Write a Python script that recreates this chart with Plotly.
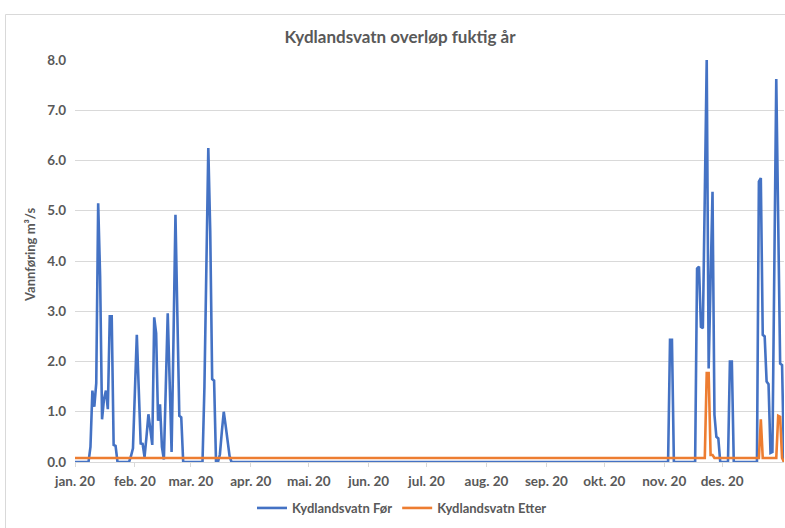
import pandas as pd
import plotly.graph_objects as go

# ---- data -------------------------------------------------------------
START_DATE = "2020-01-01"
N_DAYS = 368

series_names = ["Kydlandsvatn Før", "Kydlandsvatn Etter"]
series_colors = ["#4472C4", "#ED7D31"]

# Kydlandsvatn Før: overflow is zero except during these flow episodes
for_base = 0.0
for_episode_start = ["2020-01-09", "2020-01-30", "2020-03-08", "2020-03-16",
                     "2020-11-04", "2020-11-18", "2020-12-05", "2020-12-20"]
for_jan = [0.3, 1.42, 1.1, 1.57, 5.15, 3.7, 0.85, 1.25, 1.42, 1.05, 2.9, 2.9, 0.34, 0.32]
for_feb = [0.12, 0.27, 1.4, 2.53, 1.45, 0.37, 0.36, 0.1, 0.5, 0.95, 0.65, 0.34, 2.88, 2.56,
           0.82, 1.15, 0.3, 0.05, 1.5, 2.96, 1.6, 0.2, 2.5, 4.92, 2.9, 0.92, 0.89]
for_mar = [1.5, 4.1, 6.25, 4.6, 1.65, 1.62]
for_mar_late = [0.15, 0.6, 1.0, 0.72, 0.42, 0.12]
for_nov_early = [2.43, 2.43]
for_nov_late = [3.85, 3.89, 2.69, 2.66, 5.3, 8.0, 1.86, 3.6, 5.38, 0.94, 0.5, 0.47]
for_dec_early = [2.0, 2.0]
for_dec_late = [5.58, 5.65, 2.53, 2.5, 1.6, 1.55, 0.18, 0.2, 3.9, 7.62, 4.8, 1.96, 1.93]
for_episodes = [for_jan, for_feb, for_mar, for_mar_late,
                for_nov_early, for_nov_late, for_dec_early, for_dec_late]

# Kydlandsvatn Etter: small constant release with a few overflow peaks
etter_base = 0.08
etter_episode_start = ["2020-11-23", "2020-12-21", "2020-12-30", "2021-01-02"]
etter_nov = [1.77, 1.77, 0.14, 0.14]
etter_dec_a = [0.85]
etter_dec_b = [0.92, 0.9]
etter_end = [0.0]
etter_episodes = [etter_nov, etter_dec_a, etter_dec_b, etter_end]

# axis labels
month_starts = ["2020-01-01", "2020-02-01", "2020-03-01", "2020-04-01", "2020-05-01",
                "2020-06-01", "2020-07-01", "2020-08-01", "2020-09-01", "2020-10-01",
                "2020-11-01", "2020-12-01"]
month_labels = ["jan. 20", "feb. 20", "mar. 20", "apr. 20", "mai. 20", "jun. 20",
                "jul. 20", "aug. 20", "sep. 20", "okt. 20", "nov. 20", "des. 20"]
y_ticks = [0, 1, 2, 3, 4, 5, 6, 7, 8]

title_text = "Kydlandsvatn overløp fuktig år"
y_title_text = "Vannføring m³/s"


def daily_series(base, starts, episodes):
    idx = pd.date_range(START_DATE, periods=N_DAYS, freq="D")
    s = pd.Series(base, index=idx, dtype=float)
    for start, vals in zip(starts, episodes):
        rng = pd.date_range(start, periods=len(vals), freq="D")
        s.loc[rng] = vals
    return s


for_series = daily_series(for_base, for_episode_start, for_episodes)
etter_series = daily_series(etter_base, etter_episode_start, etter_episodes)

# ---- figure -----------------------------------------------------------
W, H = 785, 528
L, R, T, B = 75, 1, 60, 66
pw, ph = W - L - R, H - T - B

FONT = "Lato"
GREY = "#595959"


def px_x(px):
    return (px - L) / pw


def px_y(py):
    return (H - B - py) / ph


fig = go.Figure()
for s, name, color in zip([for_series, etter_series], series_names, series_colors):
    fig.add_trace(go.Scatter(
        x=s.index, y=s.values, name=f"<b>{name}</b>", mode="lines",
        line=dict(color=color, width=2.6),
        hoverinfo="x+y",
    ))

fig.update_layout(
    width=W, height=H,
    margin=dict(l=L, r=R, t=T, b=B, pad=0),
    paper_bgcolor="white", plot_bgcolor="white",
    font=dict(family=FONT, color=GREY, size=12),
    title=dict(text=f"<b>{title_text}</b>", x=400 / W, xanchor="center",
               y=1 - 37 / H, yanchor="middle", xref="container", yref="container",
               font=dict(size=17, color=GREY, family=FONT)),
    showlegend=True,
    legend=dict(orientation="h", x=px_x(402), xanchor="center",
                y=px_y(508), yanchor="middle",
                font=dict(size=13, color=GREY, family=FONT),
                itemwidth=30, tracegroupgap=0, bgcolor="rgba(0,0,0,0)"),
    xaxis=dict(
        type="date", range=[START_DATE, for_series.index[-1]],
        tickmode="array", tickvals=month_starts, ticktext=[f"<b>{t}</b>" for t in month_labels],
        showgrid=False, zeroline=False,
        showline=True, linecolor="#d9d9d9", linewidth=1,
        ticks="outside", ticklen=4, tickcolor="#d9d9d9",
        tickfont=dict(size=13.5, color=GREY, family=FONT),
        ticklabelstandoff=3,
    ),
    yaxis=dict(
        range=[0, 8], tickmode="array", tickvals=y_ticks,
        ticktext=[f"<b>{v:.1f}</b>" for v in y_ticks],
        showgrid=True, gridcolor="#d9d9d9", gridwidth=1,
        zeroline=False, showline=False, ticks="",
        tickfont=dict(size=13.5, color=GREY, family=FONT),
        ticklabelstandoff=8,
    ),
    annotations=[dict(
        text=f"<b>{y_title_text}</b>", textangle=-90,
        x=px_x(30), y=px_y(255), xref="paper", yref="paper",
        xanchor="center", yanchor="middle", showarrow=False,
        font=dict(size=13, color=GREY, family=FONT),
    )],
    shapes=[dict(
        type="rect", xref="paper", yref="paper",
        x0=px_x(5.5), x1=px_x(800), y0=px_y(540), y1=px_y(14.5),
        line=dict(color="#d9d9d9", width=1), fillcolor="rgba(0,0,0,0)", layer="below",
    )],
)

fig.write_html("out.html")
